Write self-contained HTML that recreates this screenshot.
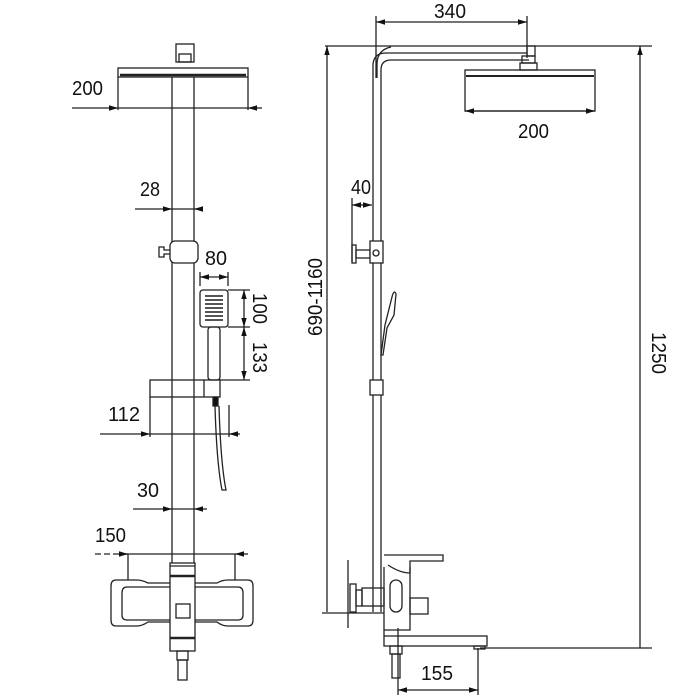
<!DOCTYPE html>
<html><head><meta charset="utf-8"><style>
html,body{margin:0;padding:0;background:#fff;}
svg{display:block;}
text{font-family:"Liberation Sans Narrow","Liberation Sans",sans-serif;font-size:20px;fill:#111;}
</style></head><body>
<svg width="700" height="700" viewBox="0 0 700 700" xmlns="http://www.w3.org/2000/svg">
<defs>
<marker id="a" viewBox="0 0 10 10" refX="10" refY="5" markerWidth="7" markerHeight="7" orient="auto-start-reverse"><path d="M0,2 L10,5 L0,8z" fill="#111"/></marker>
</defs>
<g fill="none" stroke="#222" stroke-width="1.3">
<!-- LEFT VIEW -->
<rect x="176" y="44" width="18" height="18"/>
<rect x="179" y="54" width="12" height="8"/>
<rect x="118" y="68" width="130" height="9"/>
<line x1="120" y1="75" x2="246" y2="75" stroke-width="2.5"/>
<line x1="118" y1="77" x2="118" y2="110"/><line x1="248" y1="77" x2="248" y2="110"/>
<line x1="72" y1="108" x2="118" y2="108" marker-end="url(#a)"/>
<line x1="262" y1="108" x2="248" y2="108" marker-end="url(#a)"/>
<line x1="118" y1="108" x2="248" y2="108"/>
<!-- pipe -->
<line x1="172" y1="77" x2="172" y2="563"/><line x1="194" y1="77" x2="194" y2="563"/>
<line x1="135" y1="209" x2="172" y2="209" marker-end="url(#a)"/>
<line x1="203" y1="209" x2="194" y2="209" marker-end="url(#a)"/>
<line x1="172" y1="209" x2="194" y2="209"/>
<rect x="170" y="241" width="28" height="22" rx="5" fill="#fff"/>
<path d="M170 250 h-6 v-3 h-5 v10 h5 v-3 h6"/>
<!-- hand shower -->
<rect x="200" y="290" width="28" height="37" rx="3"/>
<g stroke="none" fill="#555">
<rect x="205" y="295" width="18" height="2"/><rect x="205" y="299" width="18" height="2"/><rect x="205" y="303" width="18" height="2"/><rect x="205" y="307" width="18" height="2"/><rect x="205" y="311" width="18" height="2"/><rect x="205" y="315" width="18" height="2"/><rect x="205" y="319" width="18" height="2"/>
</g>
<rect x="208" y="327" width="12" height="53" rx="3"/>
<line x1="200" y1="286" x2="200" y2="272"/><line x1="228" y1="286" x2="228" y2="272"/>
<line x1="200" y1="277" x2="228" y2="277" marker-start="url(#a)" marker-end="url(#a)"/>
<line x1="228" y1="290" x2="250" y2="290"/><line x1="228" y1="327" x2="250" y2="327"/><line x1="220" y1="380" x2="250" y2="380"/>
<line x1="244" y1="290" x2="244" y2="327" marker-start="url(#a)" marker-end="url(#a)"/>
<line x1="244" y1="327" x2="244" y2="380" marker-start="url(#a)" marker-end="url(#a)"/>
<!-- holder -->
<rect x="150" y="380" width="70" height="17"/>
<line x1="204" y1="380" x2="204" y2="397"/>
<line x1="150" y1="397" x2="150" y2="437"/><line x1="229" y1="405" x2="229" y2="437"/>
<line x1="100" y1="434" x2="150" y2="434" marker-end="url(#a)"/>
<line x1="240" y1="434" x2="229" y2="434" marker-end="url(#a)"/>
<line x1="150" y1="434" x2="229" y2="434"/>
<rect x="213" y="397" width="5" height="9" fill="#111"/>
<path d="M215 406 C216 440 218 470 222 490 L226 490 C222 470 220 440 219 406"/>
<!-- 30 -->
<line x1="133" y1="509" x2="172" y2="509" marker-end="url(#a)"/>
<line x1="207" y1="509" x2="194" y2="509" marker-end="url(#a)"/>
<line x1="172" y1="509" x2="194" y2="509"/>
<!-- 150 -->
<line x1="95" y1="554" x2="128" y2="554" stroke-dasharray="6 3"/>
<line x1="128" y1="554" x2="235" y2="554"/>
<line x1="120" y1="554" x2="128" y2="554" marker-end="url(#a)"/>
<line x1="248" y1="554" x2="235" y2="554" marker-end="url(#a)"/>
<line x1="128" y1="554" x2="128" y2="580"/><line x1="235" y1="554" x2="235" y2="580"/>
<!-- mixer front -->
<path d="M170 583 H148 Q142 580 137 580 H116 Q111 580 111 586 V620 Q111 626 116 626 H137 Q142 626 148 622 H170"/>
<path d="M170 587 H127 Q122 587 122 593 V615 Q122 620 127 620 H170"/>
<path d="M195 583 H217 Q222 580 228 580 H248 Q253 580 253 586 V620 Q253 626 248 626 H228 Q222 626 217 622 H195"/>
<path d="M195 587 H238 Q243 587 243 593 V615 Q243 620 238 620 H195"/>
<rect x="170" y="563" width="25" height="88" fill="#fff"/>
<line x1="170" y1="566" x2="195" y2="566"/>
<line x1="170" y1="576" x2="195" y2="576" stroke-width="2.5"/>
<line x1="170" y1="638" x2="195" y2="638" stroke-width="2.5"/>
<rect x="176" y="604" width="14" height="14"/>
<rect x="177" y="651" width="11" height="9"/>
<rect x="178" y="660" width="9" height="20"/>

<!-- RIGHT VIEW -->
<line x1="376" y1="16" x2="376" y2="78"/><line x1="527" y1="16" x2="527" y2="58"/>
<line x1="376" y1="22" x2="527" y2="22" marker-start="url(#a)" marker-end="url(#a)"/>
<line x1="325" y1="46" x2="652" y2="46"/>
<line x1="327" y1="46" x2="327" y2="612" marker-start="url(#a)"/>
<line x1="640" y1="46" x2="640" y2="648" marker-start="url(#a)"/>
<line x1="480" y1="648" x2="652" y2="648"/>
<line x1="322" y1="613" x2="384" y2="613"/>
<path d="M373 612 V66 Q373 53 386 53 H527"/>
<path d="M381 612 V70 Q381 60 391 60 H529"/>
<path d="M377 78 V64 Q377 50 391 47"/>
<rect x="527" y="46" width="8" height="10"/>
<rect x="522" y="56" width="13" height="7"/><rect x="520" y="63" width="17" height="7"/>
<rect x="465" y="70" width="130" height="41"/>
<line x1="466" y1="76" x2="594" y2="76" stroke-width="2"/>
<line x1="465" y1="111" x2="595" y2="111" marker-start="url(#a)" marker-end="url(#a)"/>
<!-- 40 -->
<line x1="352" y1="198" x2="352" y2="262"/>
<line x1="352" y1="205" x2="372" y2="205" marker-start="url(#a)" marker-end="url(#a)"/>
<rect x="352" y="245" width="4" height="18"/>
<rect x="356" y="250" width="14" height="8"/>
<rect x="370" y="241" width="13" height="22" fill="#fff"/>
<circle cx="376" cy="253" r="3"/>
<!-- hand shower side -->
<path d="M381 355 L385 325 L392 297 Q394 289 396 294 L394 315 L387 328 L383 355z"/>
<rect x="370" y="380" width="13" height="15" fill="#fff"/>
<!-- mixer side -->
<line x1="348" y1="560" x2="348" y2="628"/>
<rect x="350" y="584" width="6" height="28"/>
<rect x="356" y="590" width="6" height="16"/>
<rect x="362" y="588" width="22" height="18"/>
<path d="M384 567 V630 H410 V567"/>
<path d="M384 555 H443 V561 H410 V573 Q400 573 388 565"/>
<rect x="390" y="580" width="12" height="32" rx="6"/>
<rect x="410" y="598" width="18" height="16"/>
<rect x="384" y="636" width="103" height="10"/>
<line x1="384" y1="630" x2="384" y2="636"/>
<rect x="474" y="646" width="11" height="3"/>
<rect x="390" y="646" width="12" height="8"/>
<rect x="392" y="654" width="8" height="24"/>
<line x1="398" y1="628" x2="398" y2="695"/><line x1="478" y1="648" x2="478" y2="695"/>
<line x1="398" y1="690" x2="478" y2="690" marker-start="url(#a)" marker-end="url(#a)"/>
</g>
<g>
<text x="72" y="95" textLength="31" lengthAdjust="spacingAndGlyphs">200</text>
<text x="140" y="196" textLength="20" lengthAdjust="spacingAndGlyphs">28</text>
<text x="205" y="265" textLength="22" lengthAdjust="spacingAndGlyphs">80</text>
<text x="108" y="421" textLength="32" lengthAdjust="spacingAndGlyphs">112</text>
<text x="137" y="497" textLength="22" lengthAdjust="spacingAndGlyphs">30</text>
<text x="95" y="542" textLength="31" lengthAdjust="spacingAndGlyphs">150</text>
<text transform="translate(253,293) rotate(90)" textLength="31" lengthAdjust="spacingAndGlyphs">100</text>
<text transform="translate(253,342) rotate(90)" textLength="31" lengthAdjust="spacingAndGlyphs">133</text>
<text x="434" y="18" textLength="32" lengthAdjust="spacingAndGlyphs">340</text>
<text x="518" y="138" textLength="31" lengthAdjust="spacingAndGlyphs">200</text>
<text x="351" y="194" textLength="20" lengthAdjust="spacingAndGlyphs">40</text>
<text x="421" y="680" textLength="32" lengthAdjust="spacingAndGlyphs">155</text>
<text transform="translate(322,336) rotate(-90)" textLength="78" lengthAdjust="spacingAndGlyphs">690-1160</text>
<text transform="translate(652,332) rotate(90)" textLength="42" lengthAdjust="spacingAndGlyphs">1250</text>
</g>
</svg>
</body></html>
